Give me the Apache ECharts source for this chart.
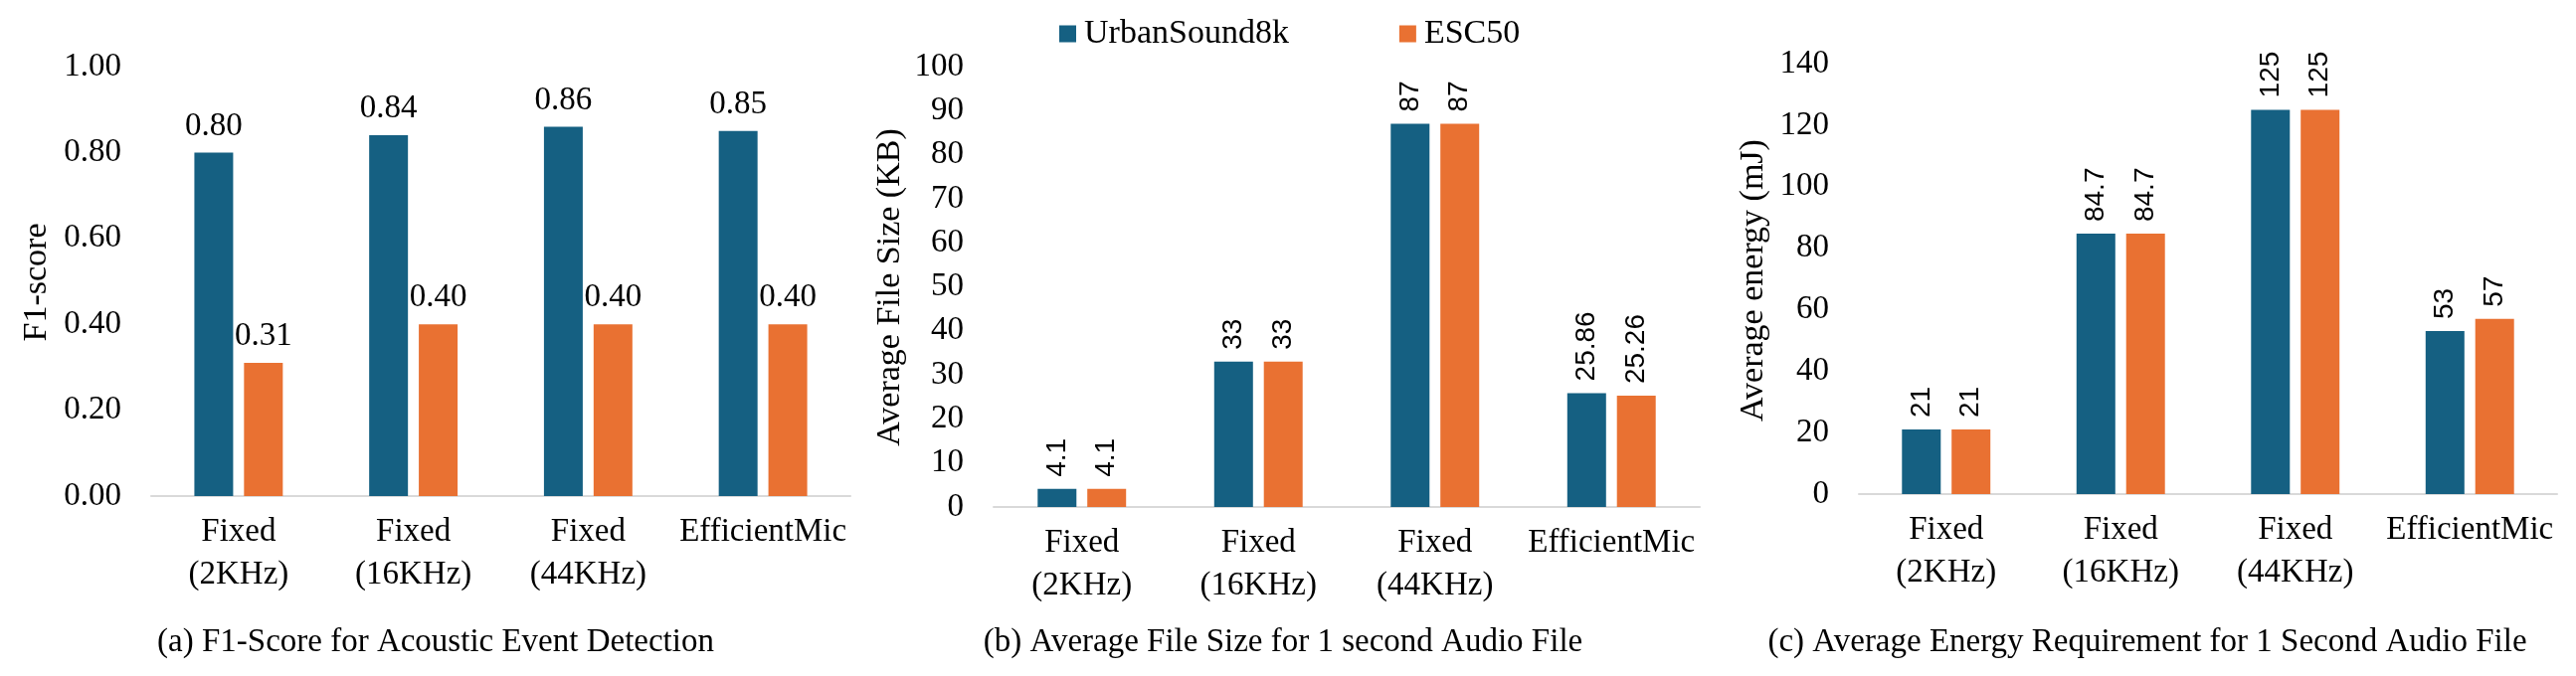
<!DOCTYPE html>
<html>
<head>
<meta charset="utf-8">
<script src="https://cdn.jsdelivr.net/npm/echarts@6/dist/echarts.min.js"></script>
<style>
html,body{margin:0;padding:0;background:#fff;}
#chart{width:2590px;height:680px;}
</style>
</head>
<body>
<div id="chart"></div>
<script>
// ---- data ----
const categories = ['Fixed\n(2KHz)', 'Fixed\n(16KHz)', 'Fixed\n(44KHz)', 'EfficientMic'];
const seriesNames = ['UrbanSound8k', 'ESC50'];
const f1Urban = [0.80, 0.84, 0.86, 0.85];
const f1Esc = [0.31, 0.40, 0.40, 0.40];
const sizeUrban = [4.1, 33, 87, 25.86];
const sizeEsc = [4.1, 33, 87, 25.26];
const energyUrban = [21, 84.7, 125, 53];
const energyEsc = [21, 84.7, 125, 57];
const yTitles = ['F1-score', 'Average File Size (KB)', 'Average energy (mJ)'];
const panelTitles = ['(a) F1-Score for Acoustic Event Detection', '(b) Average File Size for 1 second Audio File', '(c) Average Energy Requirement for 1 Second Audio File'];

const SERIF = 'Liberation Serif';
const SANS = 'Liberation Sans';
const BLUE = '#156082';
const ORANGE = '#E97132';

const chart = echarts.init(document.getElementById('chart'));

const grids = [
  {left: 152, width: 703, top: 67, height: 432},
  {left: 999, width: 710, top: 67, height: 443},
  {left: 1869, width: 702, top: 64, height: 433}
];

function xAx(i) {
  return {
    type: 'category', gridIndex: i, data: categories,
    axisLine: {lineStyle: {color: '#D9D9D9', width: 2}},
    axisTick: {show: false},
    axisLabel: {interval: 0, color: '#000', fontFamily: SERIF, fontSize: 33, lineHeight: 43, margin: 15}
  };
}
function yAx(i, max, interval, fmt) {
  return {
    type: 'value', gridIndex: i, min: 0, max: max, interval: interval,
    axisLine: {show: false}, axisTick: {show: false}, splitLine: {show: false},
    axisLabel: {color: '#000', fontFamily: SERIF, fontSize: 33, margin: 30, formatter: fmt}
  };
}

function flatLabel() {
  return {show: true, position: 'top', distance: 10, color: '#000', fontFamily: SERIF, fontSize: 33,
    formatter: p => p.value.toFixed(2)};
}
function rotLabel() {
  return {show: true, position: 'top', rotate: 90, align: 'left', verticalAlign: 'middle', distance: 12,
    color: '#000', fontFamily: SANS, fontSize: 28, formatter: p => String(p.value)};
}

function bar(name, i, data, color, label) {
  return {
    type: 'bar', name: name, xAxisIndex: i, yAxisIndex: i, data: data,
    barWidth: 39, barGap: '28%', itemStyle: {color: color}, label: label,
    animation: false
  };
}

const yTitlePos = [[37, 284], [895, 289], [1763, 282]];
const titlePos = [[438, 646], [1290, 646], [2159, 646]];
const graphics = [];
yTitles.forEach((t, i) => {
  graphics.push({type: 'text', x: yTitlePos[i][0], y: yTitlePos[i][1], rotation: Math.PI / 2,
    style: {text: t, fill: '#000', font: '34px "Liberation Serif"', textAlign: 'center', textVerticalAlign: 'middle'}});
});
panelTitles.forEach((t, i) => {
  graphics.push({type: 'text', x: titlePos[i][0], y: titlePos[i][1],
    style: {text: t, fill: '#000', font: '33px "Liberation Serif"', textAlign: 'center', textVerticalAlign: 'middle'}});
});

chart.setOption({
  animation: false,
  backgroundColor: '#fff',
  textStyle: {fontFamily: SERIF},
  legend: {
    data: seriesNames, left: 1060, top: 12, itemWidth: 17, itemHeight: 17, itemGap: 111, icon: 'rect',
    textStyle: {fontFamily: SERIF, fontSize: 34, color: '#000', padding: [0, 0, 0, 3]}
  },
  grid: grids,
  xAxis: [xAx(0), xAx(1), xAx(2)],
  yAxis: [
    yAx(0, 1, 0.2, v => v.toFixed(2)),
    yAx(1, 100, 10, v => String(v)),
    yAx(2, 140, 20, v => String(v))
  ],
  series: [
    bar(seriesNames[0], 0, f1Urban, BLUE, flatLabel()),
    bar(seriesNames[1], 0, f1Esc, ORANGE, flatLabel()),
    bar(seriesNames[0], 1, sizeUrban, BLUE, rotLabel()),
    bar(seriesNames[1], 1, sizeEsc, ORANGE, rotLabel()),
    bar(seriesNames[0], 2, energyUrban, BLUE, rotLabel()),
    bar(seriesNames[1], 2, energyEsc, ORANGE, rotLabel())
  ],
  graphic: graphics
});
</script>
</body>
</html>
